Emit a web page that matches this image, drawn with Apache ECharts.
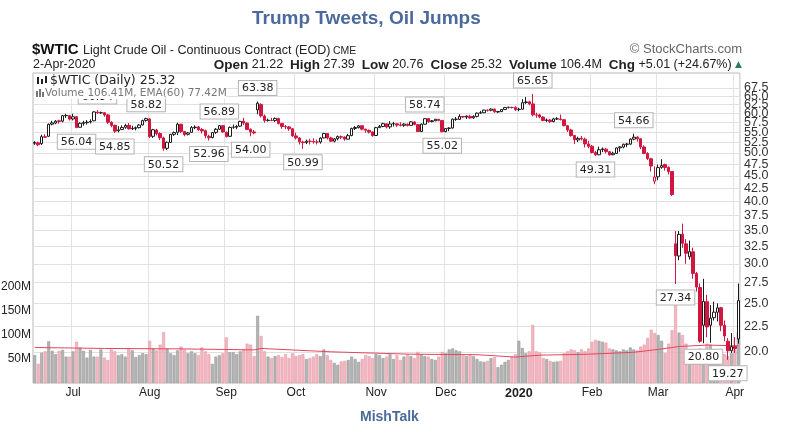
<!DOCTYPE html>
<html>
<head>
<meta charset="utf-8">
<title>Trump Tweets, Oil Jumps</title>
<script src="https://cdn.jsdelivr.net/npm/echarts@6/dist/echarts.min.js"></script>
<style>
    html, body { margin: 0; padding: 0; background: #fff; }
    #chart { width: 788px; height: 444px; }
</style>
</head>
<body>
<div id="chart"></div>
<script>
    // trading days, one row per month
    const monthKeys = ['2019-06', '2019-07', '2019-08', '2019-09', '2019-10', '2019-11', '2019-12', '2020-01', '2020-02', '2020-03', '2020-04'];
    const monthTickLabels = ['', 'Jul', 'Aug', 'Sep', 'Oct', 'Nov', 'Dec', '{y|2020}', 'Feb', 'Mar', 'Apr'];
    const monthDays = [
        [14, 17, 18, 19, 20, 21, 24, 25, 26, 27, 28],
        [1, 2, 3, 5, 8, 9, 10, 11, 12, 15, 16, 17, 18, 19, 22, 23, 24, 25, 26, 29, 30, 31],
        [1, 2, 5, 6, 7, 8, 9, 12, 13, 14, 15, 16, 19, 20, 21, 22, 23, 26, 27, 28, 29, 30],
        [3, 4, 5, 6, 9, 10, 11, 12, 13, 16, 17, 18, 19, 20, 23, 24, 25, 26, 27, 30],
        [1, 2, 3, 4, 7, 8, 9, 10, 11, 14, 15, 16, 17, 18, 21, 22, 23, 24, 25, 28, 29, 30, 31],
        [1, 4, 5, 6, 7, 8, 11, 12, 13, 14, 15, 18, 19, 20, 21, 22, 25, 26, 27, 29],
        [2, 3, 4, 5, 6, 9, 10, 11, 12, 13, 16, 17, 18, 19, 20, 23, 24, 26, 27, 30, 31],
        [2, 3, 6, 7, 8, 9, 10, 13, 14, 15, 16, 17, 21, 22, 23, 24, 27, 28, 29, 30, 31],
        [3, 4, 5, 6, 7, 10, 11, 12, 13, 14, 18, 19, 20, 21, 24, 25, 26, 27, 28],
        [2, 3, 4, 5, 6, 9, 10, 11, 12, 13, 16, 17, 18, 19, 20, 23, 24, 25, 26, 27, 30, 31],
        [1, 2]
    ];

    // daily prices ($WTIC)
    const opens = [
        52.3, 52.4, 52.2, 53.9, 54.0, 57.1, 57.4, 58.0, 57.9, 59.4, 59.4,
        58.5, 59.1, 56.3, 57.3, 57.5, 57.7, 58.0, 60.4, 60.2, 60.2, 59.6, 57.6, 56.8, 55.4, 55.7, 56.3, 56.8, 55.9, 56.0, 56.2, 56.9, 58.1,
        58.5, 54.0, 55.6, 54.7, 53.6, 51.1, 52.5, 54.5, 55.0, 57.1, 55.2, 54.5, 55.0, 56.2, 56.4, 55.7, 55.4, 54.0, 53.7, 55.0, 55.8, 56.7,
        55.0, 54.0, 56.3, 56.3, 56.6, 57.9, 57.4, 55.8, 55.1, 61.0, 62.5, 59.3, 58.1, 58.1, 58.1, 58.6, 57.3, 56.5, 56.4, 55.9,
        54.1, 53.6, 52.6, 52.5, 52.8, 52.7, 52.6, 52.6, 53.6, 54.7, 53.6, 52.8, 53.4, 53.9, 53.8, 53.3, 54.2, 56.0, 56.2, 56.7, 55.8, 55.5, 55.1,
        54.2, 56.2, 56.5, 57.2, 56.4, 57.2, 57.2, 56.9, 56.8, 57.1, 56.8, 57.7, 57.0, 55.2, 57.1, 58.6, 57.8, 58.0, 58.4, 58.1,
        55.2, 56.0, 56.1, 58.4, 58.4, 59.2, 59.0, 59.2, 58.8, 59.2, 60.1, 60.2, 60.9, 60.9, 61.2, 60.4, 60.5, 61.1, 61.7, 61.7, 61.7,
        61.1, 61.2, 63.1, 63.3, 62.7, 59.6, 59.6, 59.0, 58.1, 58.2, 57.8, 58.5, 58.5, 58.3, 56.7, 55.6, 54.2, 53.1, 53.5, 53.3, 52.1,
        51.6, 50.1, 49.6, 50.8, 50.9, 50.3, 49.6, 49.9, 51.2, 51.4, 52.1, 52.1, 53.3, 53.8, 53.4, 51.4, 49.9, 48.7, 43.9,
        44.8, 46.8, 47.4, 46.8, 45.9, 32.9, 31.1, 34.4, 32.9, 31.0, 31.7, 28.7, 26.9, 22.6, 25.2, 22.6, 23.4, 24.0, 24.5, 22.6, 21.0, 20.1,
        20.5, 21.22
    ];
    const highs = [
        52.8, 52.7, 54.4, 54.5, 57.3, 58.0, 58.2, 58.3, 59.6, 59.9, 59.5,
        59.93, 59.2, 57.6, 58.0, 58.2, 58.4, 60.6, 60.94, 60.5, 60.4, 59.9, 57.9, 57.0, 56.6, 56.8, 57.2, 57.4, 56.7, 56.5, 57.1, 58.3, 58.82,
        58.7, 55.9, 55.9, 55.0, 53.9, 52.7, 54.6, 55.2, 57.5, 57.2, 55.3, 55.1, 56.6, 56.8, 56.6, 56.1, 55.7, 54.4, 55.1, 56.1, 56.89, 56.8,
        55.2, 56.5, 57.0, 56.9, 58.0, 58.8, 57.6, 56.0, 55.6, 63.38, 62.9, 59.7, 58.6, 58.8, 58.9, 58.8, 57.4, 56.9, 56.6, 56.1,
        54.9, 53.8, 52.9, 53.2, 53.4, 53.5, 53.2, 53.8, 54.9, 54.8, 53.9, 53.6, 54.2, 54.2, 54.0, 54.6, 56.2, 56.6, 56.9, 56.8, 55.9, 55.7, 55.2,
        56.4, 56.9, 57.5, 57.3, 57.9, 57.7, 57.3, 57.6, 57.4, 57.3, 57.9, 57.8, 57.1, 57.3, 58.74, 58.7, 58.2, 58.5, 58.5, 58.2,
        56.1, 56.3, 58.6, 59.0, 59.8, 59.3, 59.5, 59.6, 59.5, 60.3, 60.7, 61.0, 61.1, 61.4, 61.4, 60.7, 61.2, 61.8, 61.9, 61.9, 62.0,
        61.6, 64.1, 64.7, 63.6, 65.65, 60.2, 59.9, 59.3, 58.6, 58.5, 58.8, 59.0, 59.7, 58.4, 56.9, 55.9, 54.3, 53.9, 54.1, 53.7, 52.9,
        51.9, 50.5, 51.5, 51.3, 51.2, 50.5, 50.3, 51.3, 51.6, 52.2, 52.4, 53.5, 54.66, 54.0, 53.5, 51.8, 50.2, 48.9, 47.0,
        47.4, 48.6, 47.6, 47.0, 46.0, 34.9, 34.9, 36.1, 33.6, 33.4, 32.3, 28.9, 27.4, 28.0, 26.0, 24.8, 25.2, 25.0, 24.6, 23.1, 21.3, 21.8,
        21.4, 27.39
    ];
    const lows = [
        51.9, 51.6, 51.9, 53.6, 53.9, 56.8, 57.1, 57.2, 57.6, 58.8, 58.1,
        58.1, 56.04, 56.2, 56.7, 57.0, 57.3, 57.9, 59.9, 59.9, 59.1, 57.2, 56.3, 54.85, 55.0, 55.6, 55.9, 55.7, 55.6, 55.5, 56.0, 56.8, 57.8,
        53.6, 53.6, 54.2, 53.1, 50.52, 50.7, 52.4, 54.1, 54.3, 54.8, 54.0, 54.2, 54.9, 55.8, 55.4, 54.7, 53.5, 52.96, 53.5, 54.6, 55.6, 54.9,
        53.7, 53.9, 55.9, 55.8, 56.4, 56.9, 55.6, 54.0, 54.5, 59.8, 58.9, 57.5, 57.8, 57.9, 57.7, 57.0, 55.9, 55.8, 55.4, 53.9,
        53.2, 52.0, 50.99, 52.1, 52.0, 52.2, 52.0, 52.2, 53.5, 53.2, 52.6, 52.5, 53.0, 53.3, 52.9, 53.2, 54.0, 55.6, 56.0, 55.5, 54.9, 54.7, 53.9,
        54.1, 56.1, 56.3, 56.0, 55.9, 56.5, 56.4, 56.5, 56.4, 56.5, 56.7, 56.8, 55.1, 55.1, 57.0, 57.5, 57.6, 57.9, 57.9, 55.02,
        55.0, 55.3, 56.0, 58.0, 58.2, 58.8, 58.5, 58.6, 58.5, 58.9, 59.9, 60.1, 60.5, 60.6, 60.2, 60.2, 60.4, 61.0, 61.4, 61.4, 60.7,
        60.6, 61.1, 62.7, 62.3, 59.2, 58.8, 58.7, 57.9, 57.7, 57.4, 57.6, 58.2, 58.1, 56.5, 55.1, 53.9, 52.1, 52.6, 53.0, 51.3, 51.1,
        49.9, 49.31, 49.5, 50.2, 49.9, 49.4, 49.5, 49.9, 50.3, 51.1, 51.4, 51.9, 53.0, 52.7, 50.9, 49.7, 48.4, 45.9, 43.3,
        44.1, 46.5, 46.1, 45.3, 41.0, 27.34, 30.5, 32.3, 30.0, 30.6, 28.0, 26.4, 20.85, 20.80, 21.4, 20.85, 23.1, 23.0, 22.0, 21.0, 19.27, 19.9,
        19.9, 20.76
    ];
    const closes = [
        52.51, 51.93, 53.90, 53.76, 57.07, 57.43, 57.90, 57.83, 59.38, 59.43, 58.47,
        59.09, 56.25, 57.34, 57.51, 57.66, 57.83, 60.43, 60.20, 60.21, 59.58, 57.62, 56.78, 55.30, 55.63, 56.22, 56.77, 55.88, 56.02, 56.20, 56.87, 58.05, 58.58,
        53.95, 55.66, 54.69, 53.63, 51.09, 52.54, 54.50, 54.93, 57.10, 55.23, 54.47, 54.87, 56.21, 56.34, 55.68, 55.35, 54.17, 53.64, 54.93, 55.78, 56.71, 55.10,
        53.94, 56.26, 56.30, 56.52, 57.85, 57.40, 55.75, 55.09, 54.85, 62.90, 59.34, 58.11, 58.13, 58.09, 58.64, 57.29, 56.49, 56.41, 55.91, 54.07,
        53.62, 52.64, 52.45, 52.81, 52.75, 52.63, 52.59, 53.55, 54.70, 53.59, 52.81, 53.36, 53.93, 53.78, 53.31, 54.16, 55.97, 56.23, 56.66, 55.81, 55.54, 55.06, 54.18,
        56.20, 56.54, 57.23, 56.35, 57.15, 57.24, 56.86, 56.80, 57.12, 56.77, 57.72, 57.05, 55.21, 57.11, 58.58, 57.77, 58.01, 58.41, 58.11, 55.17,
        55.96, 56.10, 58.43, 58.43, 59.20, 59.02, 59.24, 58.76, 59.18, 60.07, 60.21, 60.94, 60.93, 61.22, 60.44, 60.52, 61.11, 61.68, 61.72, 61.68, 61.06,
        61.18, 63.05, 63.27, 62.70, 59.61, 59.56, 59.04, 58.08, 58.23, 57.81, 58.52, 58.54, 58.34, 56.74, 55.59, 54.19, 53.14, 53.48, 53.33, 52.14, 51.56,
        50.11, 49.61, 50.75, 50.95, 50.32, 49.57, 49.94, 51.17, 51.42, 52.05, 52.05, 53.29, 53.78, 53.38, 51.43, 49.90, 48.73, 47.09, 44.76,
        46.75, 47.18, 46.78, 45.90, 41.28, 31.13, 34.36, 32.98, 31.50, 31.73, 28.70, 26.95, 21.00, 25.22, 22.43, 23.36, 24.01, 24.49, 22.60, 21.51, 20.09, 20.48,
        20.31, 25.32
    ];
    // daily volume, millions
    const volumes = [
        58, 40, 63, 66, 87, 67, 60, 67, 69, 55, 55,
        66, 86, 74, 67, 53, 69, 55, 55, 70, 53, 48, 70, 66, 58, 60, 55, 72, 68, 54, 58, 62, 60,
        88, 72, 68, 80, 106, 72, 62, 58, 68, 76, 70, 62, 66, 62, 58, 74, 66, 60, 40, 55, 58, 62,
        95, 64, 64, 60, 66, 70, 82, 80, 56, 140, 98, 66, 55, 52, 56, 58, 54, 60, 52, 62,
        56, 58, 60, 50, 52, 55, 60, 56, 70, 58, 48, 42, 38, 45, 46, 48, 55, 50, 44, 50, 58, 56, 52,
        60, 58, 52, 55, 60, 50, 58, 48, 55, 60, 56, 52, 65, 60, 56, 55, 50, 48, 55, 65,
        62, 70, 72, 68, 66, 58, 56, 60, 56, 50, 45, 44, 46, 52, 54, 33, 38, 44, 48, 55, 60,
        88, 73, 62, 66, 121, 66, 64, 52, 50, 46, 44, 45, 46, 62, 66, 70, 68, 64, 70, 66, 72,
        86, 90, 88, 86, 84, 72, 70, 68, 66, 70, 68, 74, 70, 68, 76, 80, 94, 111, 104,
        100, 88, 62, 82, 110, 172, 105, 100, 82, 68, 62, 70, 72, 68, 82, 80, 64, 60, 58, 60, 56, 62,
        70, 106
    ];
    // EMA(60) of volume, read at a few points along the red line
    const emaDates = ['2019-06-14', '2019-07-15', '2019-08-15', '2019-09-13', '2019-09-17', '2019-10-15', '2019-11-15', '2019-12-13',
        '2019-12-31', '2020-01-10', '2020-01-31', '2020-02-20', '2020-03-02', '2020-03-10', '2020-03-20', '2020-04-02'];
    const emaValues = [74, 72, 71, 69, 72, 65, 60, 59, 54, 58, 60, 64, 70, 76, 79, 77.42];

    // price gridlines on the right-hand log scale
    const priceTicks = [20, 22.5, 25, 27.5, 30, 32.5, 35, 37.5, 40, 42.5, 45, 47.5, 50, 52.5, 55, 57.5, 60, 62.5, 65, 67.5];

    // high / low callouts
    const calloutDates = ['2019-07-11', '2019-07-02', '2019-07-18', '2019-07-31', '2019-08-07', '2019-08-26', '2019-08-29', '2019-09-12', '2019-09-16',
        '2019-10-03', '2019-11-21', '2019-11-29', '2020-01-08', '2020-02-04', '2020-02-20', '2020-03-09', '2020-03-19', '2020-03-30'];
    const calloutValues = [60.94, 56.04, 54.85, 58.82, 50.52, 52.96, 56.89, 54.00, 63.38, 50.99, 58.74, 55.02, 65.65, 49.31, 54.66, 27.34, 20.80, 19.27];
    const calloutSides = ['top', 'bottom', 'bottom', 'top', 'bottom', 'bottom', 'top', 'bottom', 'top',
        'bottom', 'top', 'bottom', 'top', 'bottom', 'top', 'bottom', 'bottom', 'bottom'];

    const dates = [];
    const monthOf = [];
    monthKeys.forEach((m, i) => {
        monthDays[i].forEach(d => {
            dates.push(m + '-' + String(d).padStart(2, '0'));
            monthOf.push(i);
        });
    });
    const isMonthStart = idx => idx > 0 && monthOf[idx] !== monthOf[idx - 1];

    // StockCharts style: black/red by change vs previous close, hollow when close > open
    const candles = dates.map((d, i) => {
        const up = i === 0 || closes[i] >= closes[i - 1];
        const edge = up ? '#1b1b1b' : '#d1173f';
        const fill = closes[i] > opens[i] ? '#ffffff' : edge;
        return {
            value: [opens[i], closes[i], lows[i], highs[i]],
            itemStyle: { color: fill, color0: fill, borderColor: edge, borderColor0: edge }
        };
    });
    const volumeBars = volumes.map((v, i) => {
        const up = i === 0 || closes[i] >= closes[i - 1];
        return {
            value: v,
            itemStyle: { color: up ? '#b3b3b3' : '#f3b7c1', borderColor: up ? '#9a9a9a' : '#e59aa8', borderWidth: 0.6 }
        };
    });

    const chart = echarts.init(document.getElementById('chart'));
    chart.setOption({
        animation: false,
        backgroundColor: '#ffffff',
        textStyle: { fontFamily: 'Liberation Sans, Arial, sans-serif' },
        grid: {
            left: 33, right: 48, top: 73, bottom: 61,
            show: true, borderColor: '#b9b9b9', borderWidth: 1,
            outerBoundsMode: 'none'
        },
        xAxis: {
            type: 'category',
            data: dates,
            boundaryGap: true,
            axisLine: { show: false },
            axisTick: { show: false },
            axisLabel: {
                interval: idx => isMonthStart(idx),
                formatter: (v, idx) => monthTickLabels[monthOf[idx]],
                margin: 4,
                fontSize: 12,
                color: '#222',
                rich: { y: { fontSize: 12.5, fontWeight: 'bold', color: '#222' } }
            },
            splitLine: {
                show: true,
                interval: idx => isMonthStart(idx),
                lineStyle: { color: '#e3e3e3', width: 1 }
            }
        },
        yAxis: [
            {
                type: 'log',
                logBase: 10,
                min: 17.32,
                max: 72.3,
                position: 'right',
                axisLine: { show: false },
                axisTick: { show: false },
                axisLabel: { show: false },
                splitLine: { show: false }
            },
            {
                type: 'value',
                position: 'left',
                min: 0,
                max: 646,
                interval: 50,
                axisLine: { show: false },
                axisTick: { show: false },
                splitLine: { show: false },
                axisLabel: {
                    margin: 2,
                    fontSize: 12,
                    color: '#222',
                    formatter: v => (v > 0 && v <= 200) ? v + 'M' : ''
                }
            }
        ],
        series: [
            {
                name: 'Volume',
                type: 'bar',
                yAxisIndex: 1,
                data: volumeBars,
                barCategoryGap: '14%',
                silent: true,
                z: 2
            },
            {
                name: 'EMA(60)',
                type: 'line',
                yAxisIndex: 1,
                data: emaDates.map((d, i) => [d, emaValues[i]]),
                symbol: 'none',
                lineStyle: { color: '#e4465e', width: 1 },
                silent: true,
                z: 3
            },
            {
                name: '$WTIC',
                type: 'candlestick',
                yAxisIndex: 0,
                data: candles,
                barWidth: 3,
                z: 4,
                markLine: {
                    silent: true,
                    symbol: 'none',
                    z: 1,
                    lineStyle: { color: '#e0e0e0', type: 'solid', width: 1 },
                    label: {
                        position: 'end',
                        distance: 4,
                        fontSize: 12.5,
                        color: '#333',
                        formatter: p => Number(p.value).toFixed(1)
                    },
                    emphasis: { disabled: true },
                    data: priceTicks.map(v => ({ yAxis: v }))
                },
                markPoint: {
                    silent: true,
                    symbol: 'circle',
                    symbolSize: 1,
                    itemStyle: { color: 'rgba(0,0,0,0)' },
                    z: 6,
                    label: {
                        show: true,
                        distance: 6,
                        fontFamily: 'DejaVu Sans',
                        fontSize: 11,
                        color: '#222',
                        backgroundColor: '#ffffff',
                        borderColor: '#b5b5b5',
                        borderWidth: 1,
                        padding: [2, 3, 1, 3],
                        formatter: p => Number(p.value).toFixed(2)
                    },
                    data: calloutDates.map((d, i) => ({
                        coord: [d, calloutValues[i]],
                        value: calloutValues[i],
                        label: { position: calloutSides[i] }
                    }))
                }
            }
        ],
        graphic: [
            {
                type: 'text', left: 252, top: 9, z: 100,
                style: { text: 'Trump Tweets, Oil Jumps', fill: '#4b6a9b', font: 'bold 19px "Liberation Sans", Arial, sans-serif' }
            },
            {
                type: 'text', left: 32, top: 42, z: 100,
                style: { text: '$WTIC', fill: '#111', font: 'bold 15px "Liberation Sans", Arial, sans-serif' }
            },
            {
                type: 'text', left: 83, top: 44, z: 100,
                style: { text: 'Light Crude Oil - Continuous Contract (EOD)', fill: '#222', font: '12.5px "Liberation Sans", Arial, sans-serif' }
            },
            {
                type: 'text', left: 333, top: 46, z: 100,
                style: { text: 'CME', fill: '#222', font: '10.5px "Liberation Sans", Arial, sans-serif' }
            },
            {
                type: 'text', right: 46, top: 43, z: 100,
                style: { text: '\u00a9 StockCharts.com', fill: '#666', font: '13px "Liberation Sans", Arial, sans-serif' }
            },
            {
                type: 'text', left: 33, top: 58, z: 100,
                style: { text: '2-Apr-2020', fill: '#222', font: '12.5px "Liberation Sans", Arial, sans-serif' }
            },
            {
                type: 'text', right: 46, top: 58, z: 100,
                style: {
                    text: '{b|Open} 21.22  {b|High} 27.39  {b|Low} 20.76  {b|Close} 25.32  {b|Volume} 106.4M  {b|Chg} +5.01 (+24.67%) {g|\u25b2}',
                    fill: '#222',
                    font: '12.5px "Liberation Sans", Arial, sans-serif',
                    rich: {
                        b: { fontWeight: 'bold', fontSize: 13.5, fontFamily: 'Liberation Sans' },
                        g: { fill: '#2f7a55', fontSize: 9, fontFamily: 'DejaVu Sans' }
                    }
                }
            },
            {
                type: 'rect', left: 34, top: 74, z: 90,
                shape: { width: 192, height: 25 },
                style: { fill: '#ffffff' }
            },
            // tiny candle icon
            { type: 'rect', left: 37, top: 77, z: 100, shape: { width: 2, height: 7 }, style: { fill: '#222' } },
            { type: 'rect', left: 41, top: 79, z: 100, shape: { width: 2, height: 5 }, style: { fill: '#222' } },
            { type: 'rect', left: 45, top: 76, z: 100, shape: { width: 2, height: 7 }, style: { fill: '#222' } },
            {
                type: 'text', left: 50, top: 74, z: 100,
                style: { text: '$WTIC (Daily) 25.32', fill: '#222', font: '12.5px "DejaVu Sans", sans-serif' }
            },
            // tiny bar icon
            { type: 'rect', left: 36, top: 91, z: 100, shape: { width: 2, height: 6 }, style: { fill: '#777' } },
            { type: 'rect', left: 39, top: 89, z: 100, shape: { width: 2, height: 8 }, style: { fill: '#777' } },
            { type: 'rect', left: 42, top: 92, z: 100, shape: { width: 2, height: 5 }, style: { fill: '#777' } },
            {
                type: 'text', left: 45, top: 88, z: 100,
                style: { text: 'Volume 106.41M, EMA(60) 77.42M', fill: '#777', font: '10.5px "DejaVu Sans", sans-serif' }
            },
            {
                type: 'text', left: 360, top: 410, z: 100,
                style: { text: 'MishTalk', fill: '#4b6a9b', font: 'bold 14px "Liberation Sans", Arial, sans-serif' }
            }
        ]
    });
</script>
</body>
</html>
